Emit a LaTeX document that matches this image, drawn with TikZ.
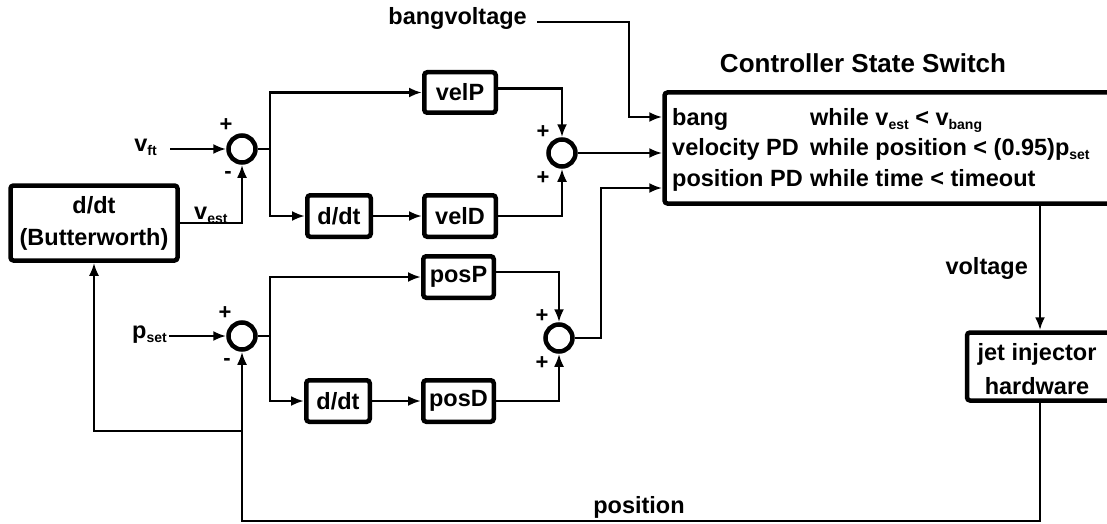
\documentclass[tikz,border=0pt]{standalone}
\usepackage{fontspec}
\setmainfont{Liberation Sans}
\usetikzlibrary{arrows.meta,calc}
\newcommand\sbs[1]{\raisebox{-0.35ex}{\fontsize{14}{14}\selectfont #1}}
\begin{document}
\begin{tikzpicture}[x=1pt,y=-1pt,
  conn/.style={line width=2.6pt},
  arr/.style={conn,-{Latex[length=13pt,width=10pt]}},
  blk/.style={draw,line width=4.5pt,rounded corners=3pt,inner sep=0pt,align=center,
    font=\bfseries\fontsize{23.5}{32}\selectfont},
  sumc/.style={draw,circle,line width=4.5pt,minimum size=27pt,inner sep=0pt},
  lbl/.style={inner sep=0pt,font=\bfseries\fontsize{23.5}{31}\selectfont},
  ttl/.style={inner sep=0pt,font=\bfseries\fontsize{26}{30}\selectfont},
  sgn/.style={inner sep=0pt,font=\bfseries\fontsize{22}{22}\selectfont}]
\useasboundingbox (0,0) rectangle (1107,524);

% blocks
\node[blk,minimum width=167pt,minimum height=75pt] (bw) at (94,223) {d/dt\\(Butterworth)};
\node[blk,minimum width=71.5pt,minimum height=40.5pt] (velP) at (460,92.5) {velP};
\node[blk,minimum width=63.5pt,minimum height=41.5pt] (dd1) at (339,216) {d/dt};
\node[blk,minimum width=71.5pt,minimum height=41.5pt] (velD) at (460,216) {velD};
\node[blk,minimum width=70.5pt,minimum height=41.5pt] (posP) at (458.5,277) {posP};
\node[blk,minimum width=63.5pt,minimum height=41.5pt] (dd2) at (338,401) {d/dt};
\node[blk,minimum width=70.5pt,minimum height=41.5pt] (posD) at (458.5,401) {posD};
\node[blk,minimum width=463pt,minimum height=111pt] (ctrl) at (896,148) {};
\node[blk,minimum width=160pt,minimum height=68pt] (jet) at (1047,366.5) {};

% summing junctions
\node[sumc] (s1) at (242,149) {};
\node[sumc] (s2) at (562,153) {};
\node[sumc] (s3) at (242,336) {};
\node[sumc] (s4) at (559,338) {};

% signs
\node[sgn] at (226,125) {+};
\node[sgn] at (228,175) {-};
\node[sgn] at (543,132) {+};
\node[sgn] at (543,178) {+};
\node[sgn] at (225,313) {+};
\node[sgn] at (227,362) {-};
\node[sgn] at (542,316) {+};
\node[sgn] at (542,363) {+};

% labels
\node[lbl,anchor=mid east] (vft) at (157,149) {v\sbs{ft}};
\node[lbl,anchor=mid east] (pset) at (167,336) {p\sbs{set}};
\node[lbl,anchor=base west] (vest) at (194,219) {v\sbs{est}};
\node[lbl,anchor=mid east] (bv) at (527,22) {bangvoltage};
\node[lbl,anchor=base east] (volt) at (1028,274) {voltage};
\node[lbl,anchor=base] (pos) at (639,513) {position};
\node[ttl,anchor=base] (title) at (863,73) {Controller State Switch};
\node[lbl,anchor=base west] (r1a) at (672,125) {bang};
\node[lbl,anchor=base west] (r2a) at (672,155) {velocity PD};
\node[lbl,anchor=base west] (r3a) at (672,186) {position PD};
\node[lbl,anchor=base west] (r1b) at (810,125) {while v\sbs{est} < v\sbs{bang}};
\node[lbl,anchor=base west] (r2b) at (810,155) {while position < (0.95)p\sbs{set}};
\node[lbl,anchor=base west] (r3b) at (810,186) {while time < timeout};
\node[lbl,align=center,font=\bfseries\fontsize{23.5}{34}\selectfont] (jettxt) at (1037,369) {jet injector\\hardware};

% helper coordinates
\coordinate (j1) at (270,149);
\coordinate (j2) at (270,336);
\coordinate (b1) at (629,117);
\coordinate (b3) at (601,188);
\coordinate (vx) at (1040,0);
\coordinate (bot) at (0,521);
\coordinate (fb) at (0,431);

% velocity loop
\draw[arr] ([xshift=13pt]vft.mid east) -- (s1.west);
\draw[arr] (bw.east) -| (s1.south);
\draw[conn] (s1.east) -- (j1);
\draw[arr] (j1) |- (velP.west);
\draw[arr] (j1) |- (dd1.west);
\draw[arr] (dd1) -- (velD);
\draw[arr] ([yshift=4pt]velP.east) -| (s2.north);
\draw[arr] (velD.east) -| (s2.south);
\draw[arr] (s2.east) -- (s2.east -| ctrl.west);

% position loop
\draw[arr] ([xshift=2pt]pset.mid east) -- (s3.west);
\draw[conn] (s3.east) -- (j2);
\draw[arr] (j2) |- (posP.west);
\draw[arr] (j2) |- (dd2.west);
\draw[arr] (dd2) -- (posD);
\draw[arr] ([yshift=5pt]posP.east) -| (s4.north);
\draw[arr] (posD.east) -| (s4.south);
\draw[arr] (s4.east) -| (b3) -- (b3 -| ctrl.west);

% bang voltage
\draw[arr] ([xshift=10pt]bv.mid east) -| (b1) -- (b1 -| ctrl.west);

% plant and feedback
\draw[arr] (ctrl.south -| vx) -- (jet.north -| vx);
\draw[arr] (jet.south -| vx) -- (vx |- bot) -| (s3.south);
\draw[arr] (s3.south |- fb) -| (bw.south);
\end{tikzpicture}
\end{document}
